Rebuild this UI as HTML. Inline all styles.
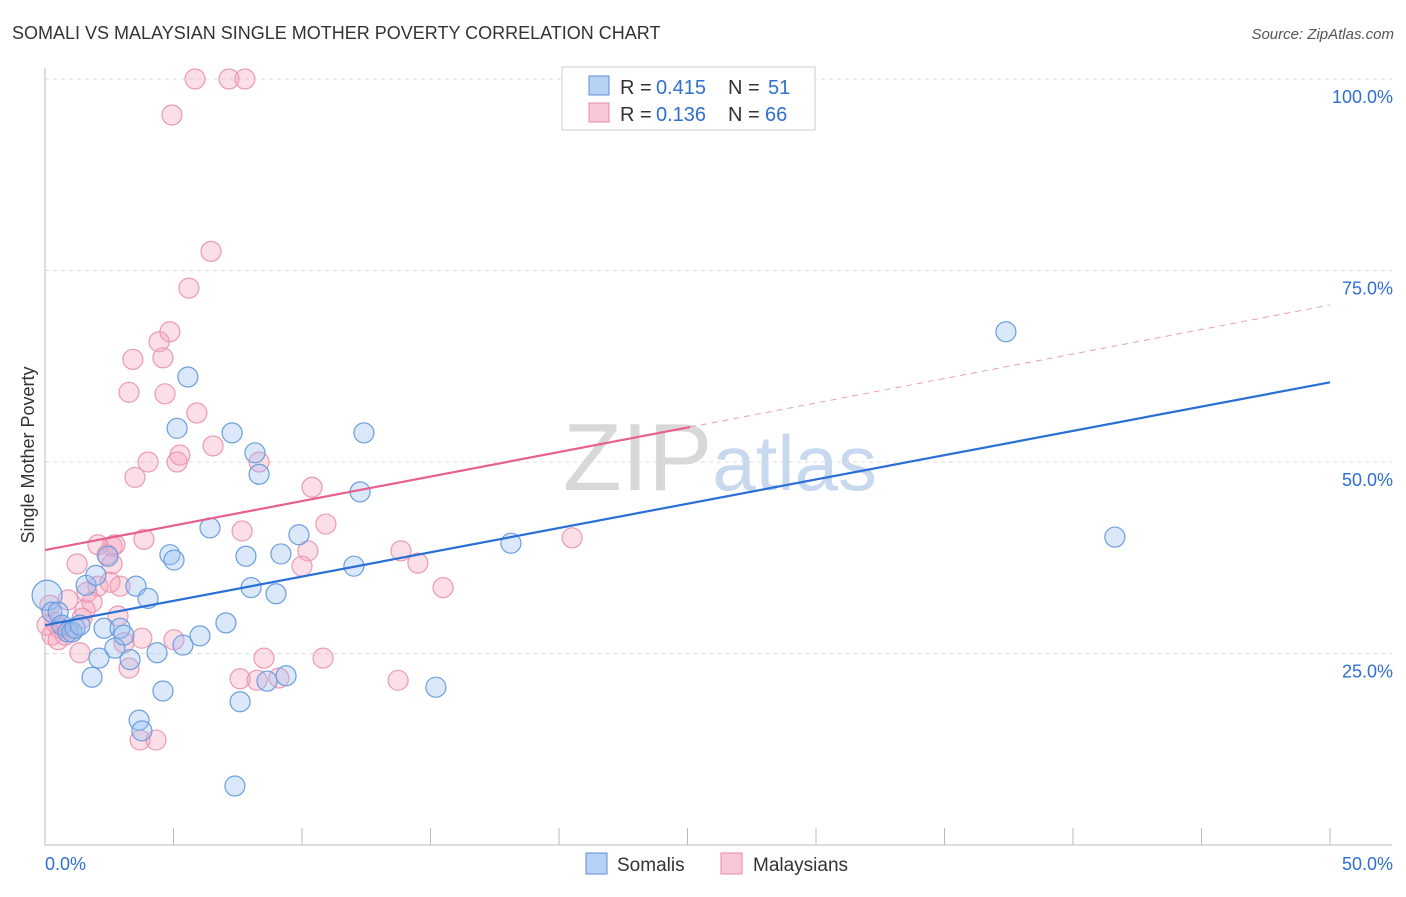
<!DOCTYPE html>
<html><head><meta charset="utf-8"><style>
body{margin:0;background:#fff;font-family:"Liberation Sans",sans-serif;}
svg text{font-family:"Liberation Sans",sans-serif;}
</style></head><body>
<svg id="c" width="1406" height="892" xmlns="http://www.w3.org/2000/svg">
<text x="12" y="39" font-size="18" fill="#333">SOMALI VS MALAYSIAN SINGLE MOTHER POVERTY CORRELATION CHART</text>
<text x="1394" y="39" font-size="15" fill="#555" font-style="italic" text-anchor="end">Source: ZipAtlas.com</text>
<text x="720" y="490" font-size="96" fill="#ddd" text-anchor="middle" font-family="Liberation Serif"><tspan fill="#d8d8d8">ZIP</tspan><tspan fill="#c8d8ee" font-family="Liberation Sans" font-size="78">atlas</tspan></text>
<text transform="translate(34,455) rotate(-90)" font-size="18" fill="#333" text-anchor="middle">Single Mother Poverty</text>
<g id="grid"></g><g id="marks"></g>
<g>
<rect x="562" y="67" width="253" height="63" fill="#fff" stroke="#ccc"/>
<rect x="589" y="76" width="20" height="19" fill="#b8d2f5" stroke="#5b8fd8"/>
<rect x="589" y="103" width="20" height="19" fill="#f9c8d6" stroke="#e88aa8"/>
<g font-size="20">
<text x="620" y="94" fill="#333">R =</text><text x="656" y="94" fill="#2f6fd0">0.415</text>
<text x="728" y="94" fill="#333">N =</text><text x="768" y="94" fill="#2f6fd0">51</text></g>
<g font-size="20">
<text x="620" y="121" fill="#333">R =</text><text x="656" y="121" fill="#2f6fd0">0.136</text>
<text x="728" y="121" fill="#333">N =</text><text x="765" y="121" fill="#2f6fd0">66</text></g>
</g>
<g>
<rect x="586" y="853" width="21" height="21" fill="#b8d2f5" stroke="#5b8fd8"/>
<text x="617" y="871" font-size="19" fill="#333">Somalis</text>
<rect x="721" y="853" width="21" height="21" fill="#f9c8d6" stroke="#e88aa8"/>
<text x="753" y="871" font-size="19" fill="#333">Malaysians</text>
</g>
</svg>
<script>
const yTicks=[25,50,75,100];
const yTickLabels=["25.0%","50.0%","75.0%","100.0%"];
const xTickLabels=["0.0%","50.0%"];
const somaliX=[0.08,0.27,0.51,0.66,0.89,1.05,1.17,1.36,1.6,1.83,1.98,2.1,2.3,2.45,2.72,2.92,3.07,3.31,3.54,3.66,3.77,4.01,4.36,4.59,4.86,5.02,5.14,5.37,5.56,6.03,6.42,7.04,7.28,7.39,7.59,7.82,8.02,8.17,8.33,8.64,8.99,9.18,9.38,9.88,12.02,12.26,12.41,15.21,18.13,37.39,41.63];
const somaliY=[32.6,30.4,30.4,28.7,27.8,27.8,28.3,28.7,33.9,21.9,35.2,24.4,28.3,37.7,25.7,28.3,27.4,24.2,33.8,16.3,14.9,32.2,25.1,20.1,37.9,37.2,54.4,26.1,61.1,27.3,41.4,29.0,53.8,7.7,18.7,37.7,33.6,51.2,48.4,21.4,32.8,38.0,22.1,40.5,36.4,46.1,53.8,20.6,39.4,67.0,40.2];
const malayX=[5.84,7.16,7.78,4.94,6.46,5.6,4.86,4.44,4.59,3.42,3.27,4.67,5.91,6.54,8.33,4.01,5.25,5.14,3.5,10.39,10.93,7.67,3.85,2.06,2.61,2.72,2.41,10.23,13.85,10.0,14.51,20.51,1.25,2.61,2.92,2.06,2.53,1.63,1.83,15.49,0.89,2.84,1.56,1.44,0.19,0.39,0.58,0.27,0.51,0.78,1.05,3.07,3.77,5.02,1.36,3.27,8.52,10.82,8.25,9.1,13.74,3.7,4.32,0.08,7.59];
const malayY=[100,100,100,95.3,77.5,72.7,67.0,65.7,63.6,63.4,59.1,58.9,56.4,52.1,50.0,50.0,50.9,50.0,48.0,46.7,41.9,41.0,39.9,39.2,39.0,39.2,37.9,38.4,38.4,36.4,36.8,40.1,36.7,36.7,33.8,33.8,34.3,33.0,31.7,33.6,32.0,29.9,30.7,29.6,31.3,29.1,28.3,27.4,26.8,27.4,27.8,26.4,27.0,26.8,25.1,23.1,24.4,24.4,21.5,21.8,21.5,13.7,13.7,28.7,21.7];
const somaliTrend=[28.7,60.4];
const malayTrend=[38.5,70.5];
const malaySolidEnd=25.1;

const NS="http://www.w3.org/2000/svg";
const X=v=>45+v/50*1285, Y=v=>845-v/100*766;
function mk(t,a,p){const e=document.createElementNS(NS,t);for(const k in a)e.setAttribute(k,a[k]);p.appendChild(e);return e;}
const g=document.getElementById('grid'),m=document.getElementById('marks');
yTicks.forEach((t,i)=>{
 const l=mk('line',{x1:45,x2:1392,y1:Y(t),y2:Y(t),stroke:'#ddd','stroke-dasharray':'4,4'},g);
 
 
 const tx=mk('text',{x:1393,y:Y(t)+24,'font-size':18,fill:'#2f6fd0','text-anchor':'end'},g);
 tx.textContent=yTickLabels[i];
 
 
});
const ax=mk('line',{x1:45,x2:1392,y1:845,y2:845,stroke:'#bbb'},g);


const ay=mk('line',{x1:45,x2:45,y1:68,y2:845,stroke:'#bbb'},g);


for(let i=1;i<=10;i++){const t=mk('line',{x1:X(i*5),x2:X(i*5),y1:828,y2:845,stroke:'#bbb'},g);
 
 }
[[0,'start',45],[50,'end',1393]].forEach((d,i)=>{const t=mk('text',{x:d[2],y:870,'font-size':18,fill:'#2f6fd0','text-anchor':d[1]},g);t.textContent=xTickLabels[i];
 
 });
malayX.forEach((x,i)=>{const c=mk('circle',{cx:X(x),cy:Y(malayY[i]),r:10,fill:'rgba(245,160,185,0.35)',stroke:'#eb9ab3','stroke-width':1.2},m);
 
 });
somaliX.forEach((x,i)=>{const c=mk('circle',{cx:X(x),cy:Y(somaliY[i]),r:i==0?15:10,fill:'rgba(150,190,240,0.35)',stroke:'#6a9ee0','stroke-width':1.2},m);
 
 });
const my=x=>malayTrend[0]+(malayTrend[1]-malayTrend[0])*x/50;
let l=mk('line',{x1:X(0),y1:Y(malayTrend[0]),x2:X(malaySolidEnd),y2:Y(my(malaySolidEnd)),stroke:'#e8608c','stroke-width':2.2},m);


l=mk('line',{x1:X(malaySolidEnd),y1:Y(my(malaySolidEnd)),x2:X(50),y2:Y(malayTrend[1]),stroke:'#e8a0b8','stroke-width':1,'stroke-dasharray':'6,5'},m);


l=mk('line',{x1:X(0),y1:Y(somaliTrend[0]),x2:X(50),y2:Y(somaliTrend[1]),stroke:'#2a6fd6','stroke-width':2.2},m);


</script>
</body></html>
